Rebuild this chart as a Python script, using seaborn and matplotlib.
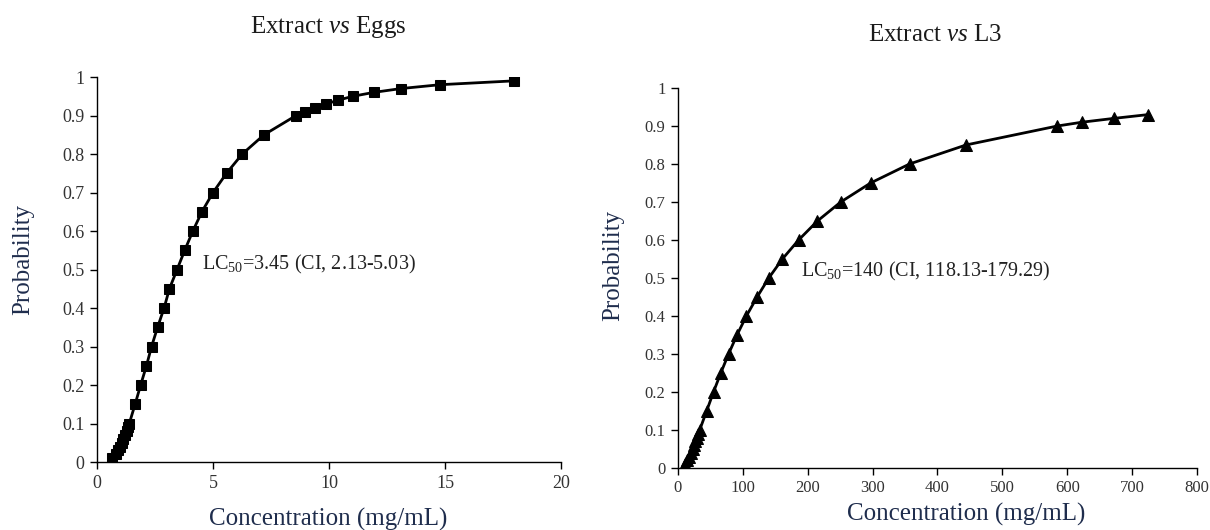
import matplotlib
matplotlib.use("Agg")
import matplotlib.pyplot as plt
import seaborn as sns

sns.set_theme(style="ticks")
plt.rcParams["font.family"] = ["Liberation Serif", "DejaVu Serif"]
plt.rcParams["mathtext.fontset"] = "custom"
plt.rcParams["mathtext.rm"] = "Liberation Serif"
plt.rcParams["mathtext.it"] = "Liberation Serif:italic"

# Extract vs Eggs
prob_eggs = [0.01, 0.02, 0.03, 0.04, 0.05, 0.06, 0.07, 0.08, 0.09, 0.10,
             0.15, 0.20, 0.25, 0.30, 0.35, 0.40, 0.45, 0.50, 0.55, 0.60,
             0.65, 0.70, 0.75, 0.80, 0.85, 0.90, 0.91, 0.92, 0.93, 0.94,
             0.95, 0.96, 0.97, 0.98, 0.99]
conc_eggs = [0.66, 0.80, 0.91, 0.99, 1.07, 1.14, 1.21, 1.27, 1.33, 1.39,
             1.64, 1.88, 2.13, 2.35, 2.61, 2.89, 3.12, 3.45, 3.78, 4.13,
             4.52, 5.00, 5.58, 6.26, 7.20, 8.58, 8.97, 9.38, 9.87, 10.40,
             11.03, 11.92, 13.10, 14.78, 17.97]

# Extract vs L3
prob_l3 = [0.01, 0.02, 0.03, 0.04, 0.05, 0.06, 0.07, 0.08, 0.09, 0.10,
           0.15, 0.20, 0.25, 0.30, 0.35, 0.40, 0.45, 0.50, 0.55, 0.60,
           0.65, 0.70, 0.75, 0.80, 0.85, 0.90, 0.91, 0.92, 0.93]
conc_l3 = [10.5, 14.0, 17.0, 20.0, 22.5, 25.0, 27.0, 29.5, 31.5, 33.5,
           44.2, 54.8, 66.0, 78.0, 91.0, 105.5, 122.0, 140.0, 161.0, 186.0,
           215.0, 251.0, 297.0, 357.0, 444.0, 585.0, 623.0, 672.0, 725.0]

y_ticks = [0, 0.1, 0.2, 0.3, 0.4, 0.5, 0.6, 0.7, 0.8, 0.9, 1]
y_labels = ["0", "0.1", "0.2", "0.3", "0.4", "0.5", "0.6", "0.7", "0.8", "0.9", "1"]

label_col = "#1f2d4d"
tick_col = "#333333"

fig = plt.figure(figsize=(12.1, 5.3), dpi=100)
ax1 = fig.add_axes([0.0802, 0.1283, 0.3835, 0.7264])
ax2 = fig.add_axes([0.5603, 0.1170, 0.4289, 0.7170])


def style_axis(ax, xticks, xmax, fs):
    ax.set_xlim(0, xmax)
    ax.set_ylim(0, 1)
    ax.set_xticks(xticks)
    ax.set_yticks(y_ticks)
    ax.set_yticklabels(y_labels)
    ax.set_xlabel("")
    ax.set_ylabel("")
    for s in ["top", "right"]:
        ax.spines[s].set_visible(False)
    for s in ["left", "bottom"]:
        ax.spines[s].set_color("black")
        ax.spines[s].set_linewidth(1.0)
    ax.tick_params(direction="out", length=5, width=1, colors="black",
                   labelcolor=tick_col, labelsize=fs, pad=4)


sns.lineplot(x=conc_eggs, y=prob_eggs, ax=ax1, color="black", linewidth=2.0,
             marker="s", markersize=7, markeredgecolor="black", estimator=None, sort=False)
style_axis(ax1, [0, 5, 10, 15, 20], 20, 13)
ax1.text(4.51, 0.512, "LC$_{\\mathrm{50}}$=3.45 (CI, 2.13-5.03)", fontsize=14.5,
         ha="left", va="center", color="#222222")

sns.lineplot(x=conc_l3, y=prob_l3, ax=ax2, color="black", linewidth=2.0,
             marker="^", markersize=8, markeredgecolor="black", estimator=None, sort=False)
style_axis(ax2, [0, 100, 200, 300, 400, 500, 600, 700, 800], 800, 12)
ax2.text(190, 0.516, "LC$_{\\mathrm{50}}$=140 (CI, 118.13-179.29)", fontsize=14.5,
         ha="left", va="center", color="#222222")

# titles and axis labels placed on the figure
fig.text(328 / 1210, 1 - 27 / 530, "Extract $\\mathit{vs}$ Eggs", fontsize=18,
         ha="center", va="center", color="#1a1a1a")
fig.text(935 / 1210, 1 - 35 / 530, "Extract $\\mathit{vs}$ L3", fontsize=18,
         ha="center", va="center", color="#1a1a1a")
fig.text(23 / 1210, 1 - 259 / 530, "Probability", fontsize=18, rotation=90,
         ha="center", va="center", color=label_col)
fig.text(613 / 1210, 1 - 265 / 530, "Probability", fontsize=18, rotation=90,
         ha="center", va="center", color=label_col)
fig.text(328 / 1210, 1 - 519 / 530, "Concentration (mg/mL)", fontsize=18,
         ha="center", va="center", color=label_col)
fig.text(966 / 1210, 1 - 514 / 530, "Concentration (mg/mL)", fontsize=18,
         ha="center", va="center", color=label_col)

fig.savefig("out.png", dpi=100)
